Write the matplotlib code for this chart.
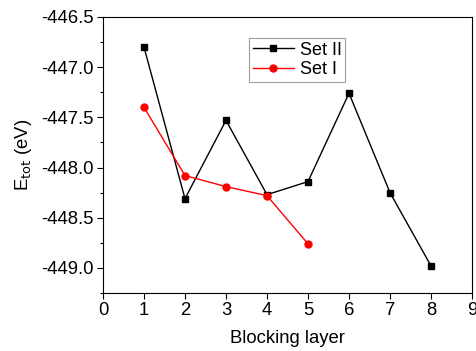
import matplotlib
matplotlib.use("Agg")
import matplotlib.pyplot as plt
from matplotlib.ticker import MultipleLocator, FormatStrFormatter

plt.rcParams["font.family"] = ["Liberation Sans", "DejaVu Sans"]

# blocking layer index
layers_ii = [1, 2, 3, 4, 5, 6, 7, 8]
layers_i = [1, 2, 3, 4, 5]

# total energies (eV)
etot_ii = [-446.80, -448.31, -447.53, -448.27, -448.14, -447.26, -448.25, -448.98]
etot_i = [-447.40, -448.08, -448.19, -448.28, -448.76]

fig = plt.figure(figsize=(4.77, 3.51), dpi=100)
ax = fig.add_axes([103 / 477, 1 - 293 / 351, 369 / 477, 276 / 351])

ax.plot(layers_ii, etot_ii, color="black", marker="s", markersize=4.5,
        linewidth=1.0, label="Set II")
ax.plot(layers_i, etot_i, color="red", marker="o", markersize=5,
        linewidth=1.0, label="Set I")

ax.set_xlim(0, 9)
ax.set_ylim(-449.25, -446.5)
ax.xaxis.set_major_locator(MultipleLocator(1))
ax.yaxis.set_major_locator(MultipleLocator(0.5))
ax.yaxis.set_minor_locator(MultipleLocator(0.25))
ax.yaxis.set_major_formatter(FormatStrFormatter("%.1f"))
ax.tick_params(axis="both", which="major", direction="out", length=4,
               width=0.8, labelsize=13.3, top=False, right=False, pad=2.5)
ax.tick_params(axis="y", which="minor", direction="out", length=2.5, width=0.8)

ax.set_xlabel("Blocking layer", fontsize=13.3, labelpad=8)
ax.set_ylabel(r"E$_{\mathrm{tot}}$ (eV)", fontsize=13.3, labelpad=5)

leg = ax.legend(loc="upper left", bbox_to_anchor=(0.396, 0.924), fontsize=13,
                frameon=True, fancybox=False, edgecolor="#888888",
                handlelength=2.3, borderpad=0.2, labelspacing=0.15,
                handletextpad=0.3, borderaxespad=0)
leg.get_frame().set_linewidth(0.8)

fig.savefig("out.png", dpi=100)
